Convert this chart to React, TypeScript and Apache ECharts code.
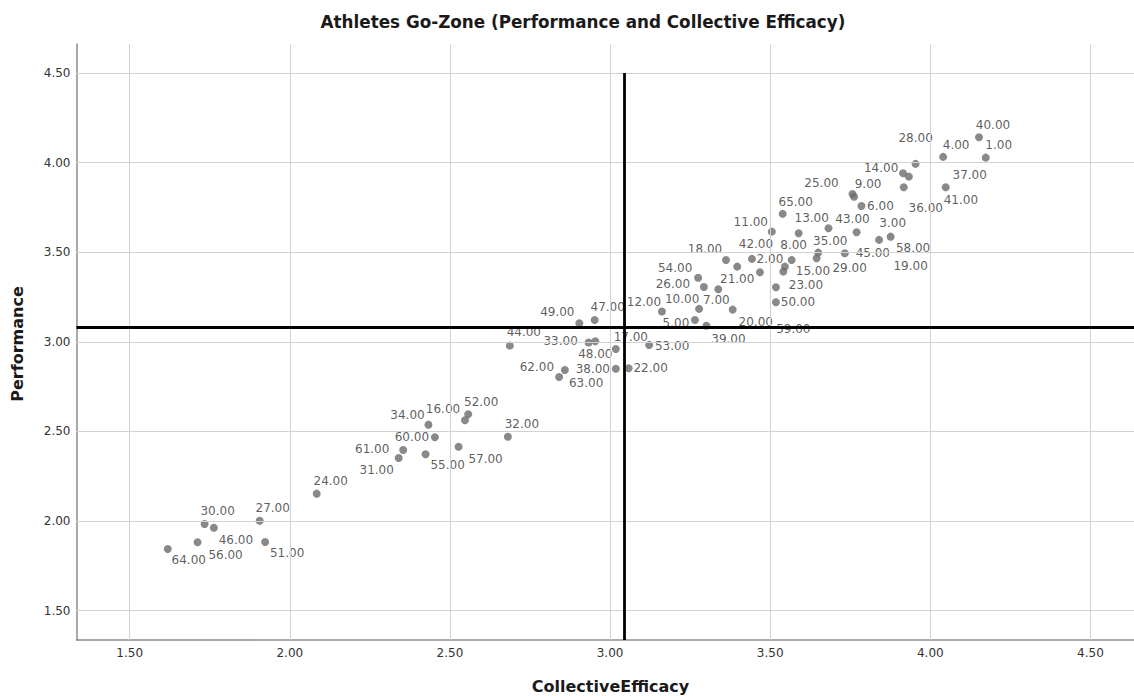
import React, { useEffect, useRef } from "react";
import * as echarts from "echarts";

// Athlete IDs (labels) 1..65
const athleteIds: number[] = Array.from({ length: 65 }, (_, i) => i + 1);

// Collective efficacy (x) per athlete
const collectiveEfficacy: number[] = [
  4.173, 3.468, 3.770, 4.040, 3.265, 3.785, 3.338, 3.567, 3.762, 3.278,
  3.505, 3.162, 3.589, 3.915, 3.546, 2.547, 3.018, 3.362, 3.876, 3.383,
  3.397, 3.058, 3.518, 2.084, 3.757, 3.293, 1.906, 3.954, 3.645, 1.734,
  2.340, 2.681, 2.933, 2.433, 3.650, 3.917, 4.048, 3.018, 3.301, 4.152,
  3.933, 3.443, 3.682, 2.687, 3.733, 1.763, 2.952, 2.954, 2.904, 3.518,
  1.923, 2.557, 3.122, 3.275, 2.424, 1.712, 2.527, 3.840, 3.541, 2.453,
  2.354, 2.859, 2.841, 1.619, 3.539,
];

// Performance (y) per athlete
const performance: number[] = [
  4.028, 3.388, 3.612, 4.032, 3.122, 3.758, 3.294, 3.457, 3.810, 3.184,
  3.615, 3.169, 3.606, 3.941, 3.420, 2.563, 2.960, 3.457, 3.587, 3.180,
  3.420, 2.853, 3.305, 2.153, 3.825, 3.306, 2.002, 3.993, 3.467, 1.984,
  2.352, 2.471, 2.996, 2.538, 3.498, 3.863, 3.863, 2.850, 3.090, 4.142,
  3.922, 3.463, 3.634, 2.979, 3.494, 1.963, 3.122, 3.003, 3.104, 3.221,
  1.883, 2.596, 2.983, 3.358, 2.373, 1.882, 2.415, 3.569, 3.392, 2.468,
  2.397, 2.843, 2.804, 1.844, 3.714,
];

// Reference lines (means)
const meanEfficacy = 3.044;
const meanPerformance = 3.085;

// Tick values
const xTicks: number[] = [1.5, 2.0, 2.5, 3.0, 3.5, 4.0, 4.5];
const yTicks: number[] = [1.5, 2.0, 2.5, 3.0, 3.5, 4.0, 4.5];

// Axis extents
const xMin = 1.334;
const xMax = 4.636;
const yMin = 1.3365;
const yMax = 4.662;

// Label placement (style): offset of each label centre from its point, px
const labelOffsets: [number, number][] = [
  [13, -13], [10, -13], [36, -9], [13, -12], [-19, 3], [19, 0], [-2, 11], [2, -15], [14, -13], [-17, -10],
  [-21, -10], [-18, -10], [13, -15], [-22, -5], [28, 4], [-22, -11], [15, -12], [-21, -11], [20, 29], [23, 12],
  [0, 12], [22, 0], [30, -2], [14, -13], [-31, -11], [-31, -3], [13, -13], [0, -26], [33, 10], [13, -13],
  [-22, 12], [14, -13], [-28, -2], [-21, -10], [12, -12], [22, 21], [24, -12], [-23, 0], [22, 13], [14, -12],
  [52, 23], [4, -15], [24, -9], [14, -14], [28, 0], [22, 12], [13, -13], [0, 13], [-22, -11], [22, 0],
  [22, 11], [13, -12], [23, 1], [-23, -10], [22, 11], [28, 13], [27, 12], [34, 8], [10, 57], [-23, 0],
  [-31, -1], [-28, -3], [27, 6], [21, 11], [13, -12],
];

const FONT = "DejaVu Sans";

export default function App() {
  const ref = useRef<HTMLDivElement>(null);

  useEffect(() => {
    if (!ref.current) return;
    const chart = echarts.init(ref.current, undefined, { renderer: "svg" });

    const points = athleteIds.map((id, i) => ({
      value: [collectiveEfficacy[i], performance[i], id],
      label: { offset: labelOffsets[i] },
    }));

    const option: any = {
      animation: false,
      backgroundColor: "#ffffff",
      grid: {
        left: 76.5,
        right: 0,
        top: 44,
        bottom: 56,
        containLabel: false,
        outerBoundsMode: "none",
      },
      xAxis: {
        type: "value",
        min: xMin,
        max: xMax,
        axisLine: { show: true, onZero: false, lineStyle: { color: "#8c8c8c", width: 1.5 } },
        axisTick: { show: false },
        splitLine: { show: false },
        axisLabel: {
          customValues: xTicks,
          formatter: (v: number) => v.toFixed(2),
          fontFamily: FONT,
          fontSize: 12,
          color: "#333333",
          margin: 7,
        },
      },
      yAxis: {
        type: "value",
        min: yMin,
        max: yMax,
        axisLine: { show: true, onZero: false, lineStyle: { color: "#8c8c8c", width: 1.5 } },
        axisTick: { show: false },
        splitLine: { show: false },
        axisLabel: {
          customValues: yTicks,
          formatter: (v: number) => v.toFixed(2),
          fontFamily: FONT,
          fontSize: 12,
          color: "#333333",
          margin: 6,
        },
      },
      series: [
        {
          type: "scatter",
          name: "grid",
          z: 1,
          data: [],
          silent: true,
          markLine: {
            silent: true,
            symbol: ["none", "none"],
            label: { show: false },
            lineStyle: { color: "#d2d2d2", width: 1, type: "solid" },
            data: [
              ...xTicks.map((v) => ({ xAxis: v })),
              ...yTicks.map((v) => ({ yAxis: v })),
            ],
          },
        },
        {
          type: "scatter",
          name: "athletes",
          z: 3,
          symbol: "circle",
          symbolSize: 8,
          itemStyle: { color: "#6b6b6b" },
          data: points,
          label: {
            show: true,
            position: "inside",
            formatter: (p: any) => Number(p.value[2]).toFixed(2),
            fontFamily: FONT,
            fontSize: 12,
            color: "#333333",
            textBorderWidth: 0,
            textBorderColor: "transparent",
            align: "center",
            verticalAlign: "middle",
          },
        },
        {
          type: "scatter",
          name: "ref",
          z: 10,
          data: [],
          silent: true,
          markLine: {
            silent: true,
            symbol: ["none", "none"],
            label: { show: false },
            lineStyle: { color: "#000000", width: 2.8, type: "solid" },
            data: [
              [{ coord: [meanEfficacy, yMin] }, { coord: [meanEfficacy, yTicks[yTicks.length - 1]] }],
              { yAxis: meanPerformance },
            ],
          },
        },
      ],
      graphic: [
        {
          type: "text",
          x: 583,
          y: 22,
          style: {
            text: "Athletes Go-Zone (Performance and Collective Efficacy)",
            fontFamily: FONT,
            fontWeight: "bold",
            fontSize: 16.8,
            fill: "#1a1a1a",
            align: "center",
            verticalAlign: "middle",
          },
        },
        {
          type: "text",
          x: 610.5,
          y: 686,
          style: {
            text: "CollectiveEfficacy",
            fontFamily: FONT,
            fontWeight: "bold",
            fontSize: 16,
            fill: "#1a1a1a",
            align: "center",
            verticalAlign: "middle",
          },
        },
        {
          type: "text",
          x: 17,
          y: 344,
          rotation: Math.PI / 2,
          style: {
            text: "Performance",
            fontFamily: FONT,
            fontWeight: "bold",
            fontSize: 16,
            fill: "#1a1a1a",
            align: "center",
            verticalAlign: "middle",
          },
        },
      ],
    };

    chart.setOption(option);
    return () => chart.dispose();
  }, []);

  return (
    <div
      ref={ref}
      style={{ position: "fixed", left: 0, top: 0, width: 1134, height: 696 }}
    />
  );
}
